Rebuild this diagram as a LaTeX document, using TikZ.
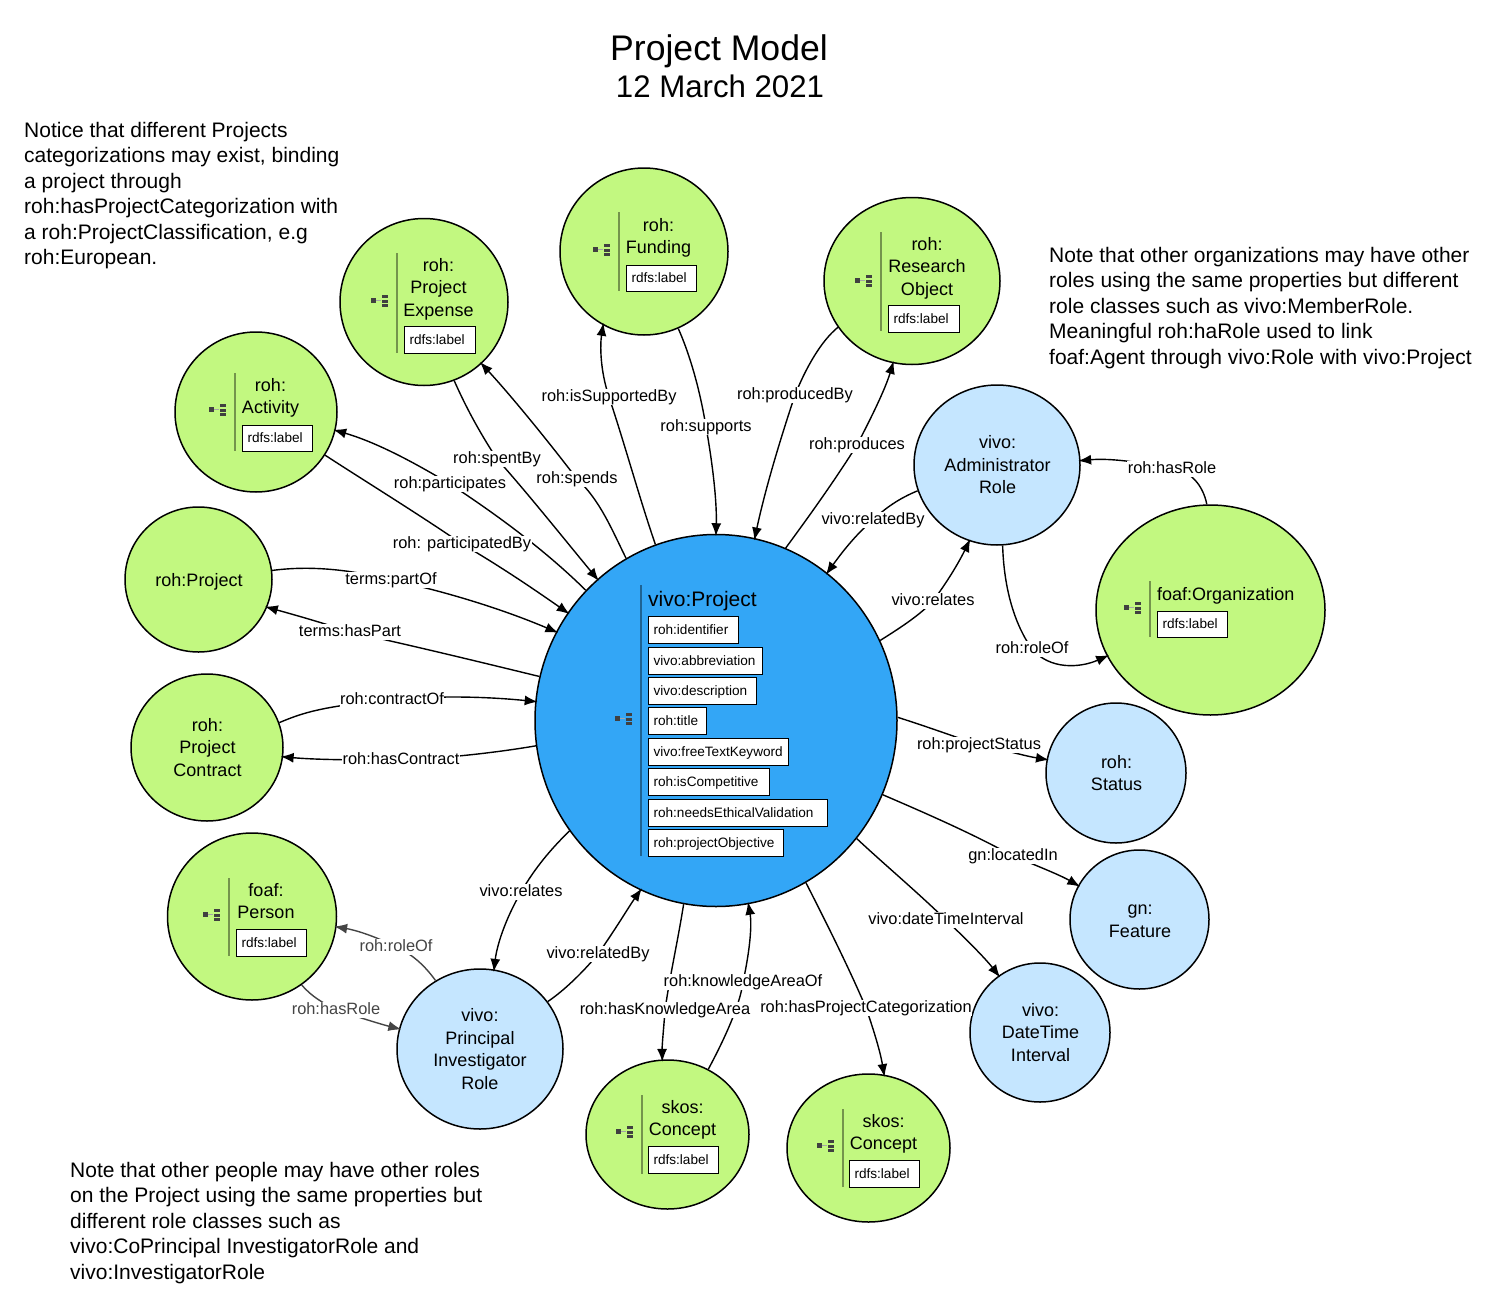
\documentclass[tikz,border=0pt]{standalone}
\usepackage{fontspec}
\setmainfont{Liberation Sans}
\usetikzlibrary{arrows.meta,shapes.geometric}
\pgfdeclarelayer{classes}
\pgfdeclarelayer{links}
\pgfsetlayers{classes,links,main}
\definecolor{projblue}{HTML}{33A6F6}
\definecolor{lightblue}{HTML}{C5E6FF}
\definecolor{lightgreen}{HTML}{C2F880}
\definecolor{rolegray}{HTML}{444444}
\begin{document}
\begin{tikzpicture}[
	x=1pt, y=-1pt,
	bubble/.style={
		draw, ellipse, line width=1.5pt, inner sep=0pt,
		align=center, font=\fontsize{18}{22.5}\selectfont
	},
	greenbubble/.style={bubble, fill=lightgreen},
	bluebubble/.style={bubble, fill=lightblue},
	classname/.style={align=center, inner sep=0pt, yshift=-2pt, font=\fontsize{18}{22.5}\selectfont},
	propbox/.style={
		draw, fill=white, line width=1pt, anchor=north west, align=left,
		inner xsep=5pt, inner ysep=0pt, minimum height=26.5pt,
		text height=12pt, text depth=3pt, text width=#1*1pt-10pt,
		font=\fontsize{13.6}{16}\selectfont
	},
	rel/.style={->, >={Latex[length=13pt,width=10pt]}, line width=1.4pt, shorten >=-2.5pt},
	grayrel/.style={rel, draw=rolegray},
	rellabel/.style={
		fill=white, inner xsep=0.5pt, inner ysep=0pt, yshift=-2pt,
		text height=12pt, text depth=3.5pt,
		font=\fontsize{16.4}{18}\selectfont
	},
	note/.style={
		anchor=north west, align=left, inner sep=0pt,
		font=\fontsize{21}{25.5}\selectfont
	},
	splitline/.style={black, opacity=0.4, line width=1.5pt}
]
	\useasboundingbox (0, 0) rectangle (1510, 1314);
	% Title and notes
	\node[font=\fontsize{35.6}{40}\selectfont] (title) at (719, 51) {Project Model};
	\node[font=\fontsize{31.2}{36}\selectfont] (date) at (720, 86) {12 March 2021};
	\node[note] (notecat) at (24, 122) {Notice that different Projects\\categorizations may exist, binding\\a project through\\roh:hasProjectCategorization with\\a roh:ProjectClassification, e.g\\roh:European.};
	\node[note] (noteorg) at (1049, 247) {Note that other organizations may have other\\roles using the same properties but different\\role classes such as vivo:MemberRole.\\Meaningful roh:haRole used to link\\foaf:Agent through vivo:Role with vivo:Project};
	\node[note] (notepeople) at (70, 1162) {Note that other people may have other roles\\on the Project using the same properties but\\different role classes such as\\vivo:CoPrincipal InvestigatorRole and\\vivo:InvestigatorRole};

	% Classes
	\begin{pgfonlayer}{classes}
		\node[bubble, fill=projblue, minimum width=362pt, minimum height=372pt] (project) at (716, 720.5) {};
		\node[greenbubble, minimum width=168pt, minimum height=167pt] (funding) at (644, 251.5) {};
		\node[greenbubble, minimum width=176pt, minimum height=167pt] (research) at (912, 281) {};
		\node[greenbubble, minimum width=168pt, minimum height=167pt] (expense) at (424, 302) {};
		\node[greenbubble, minimum width=162pt, minimum height=160pt] (activity) at (256, 412) {};
		\node[greenbubble, minimum width=147pt, minimum height=145pt] (rohproject) at (198.5, 579.5) {};
		\node[greenbubble, minimum width=152pt, minimum height=147pt] (contract) at (207, 747.5) {};
		\node[greenbubble, minimum width=169pt, minimum height=167pt] (person) at (252, 916.5) {};
		\node[greenbubble, minimum width=163pt, minimum height=149pt] (skosarea) at (667.5, 1134.5) {};
		\node[greenbubble, minimum width=163pt, minimum height=148pt] (skoscat) at (868.5, 1148) {};
		\node[greenbubble, minimum width=229pt, minimum height=210pt] (organization) at (1210.5, 610) {};
		\node[bluebubble, minimum width=166pt, minimum height=160pt] (adminrole) at (997, 465) {};
		\node[bluebubble, minimum width=166pt, minimum height=160pt] (pirole) at (480, 1049) {};
		\node[bluebubble, minimum width=140pt, minimum height=139pt] (interval) at (1040, 1032.5) {};
		\node[bluebubble, minimum width=139pt, minimum height=139pt] (feature) at (1139.5, 919.5) {};
		\node[bluebubble, minimum width=140pt, minimum height=140pt] (status) at (1116, 773) {};
	\end{pgfonlayer}

	% Class names, separators and outline icons
	\node[classname] (rohprojectname) at (199, 579.5) {roh:Project};
	\node[classname] (contractname) at (207.5, 745.5) {roh:\\Project\\Contract};
	\node[classname] (adminname) at (997.5, 463) {vivo:\\Administrator\\Role};
	\node[classname] (piname) at (480, 1047) {vivo:\\Principal\\Investigator\\Role};
	\node[classname] (intervalname) at (1040.5, 1030.5) {vivo:\\DateTime\\Interval};
	\node[classname] (featurename) at (1140, 919) {gn:\\Feature};
	\node[classname] (statusname) at (1116.5, 771) {roh:\\Status};
	\node[classname] (activityname) at (270.5, 396) {roh:\\Activity};
	\node[classname] (fundingname) at (658.5, 236) {roh:\\Funding};
	\node[classname] (researchname) at (927, 266) {roh:\\Research\\Object};
	\node[classname] (expensename) at (438.5, 287) {roh:\\Project\\Expense};
	\node[classname] (personname) at (266, 899) {foaf:\\Person};
	\node[classname] (skosareaname) at (682.5, 1118) {skos:\\Concept};
	\node[classname] (skoscatname) at (883.5, 1132) {skos:\\Concept};
	\node[classname, anchor=west] (orgname) at (1157, 594) {foaf:Organization};
	\node[classname, anchor=west, font=\fontsize{21}{24}\selectfont] (projectname) at (648, 599) {vivo:Project};
	\foreach \x/\ya/\yb in {235/373/451, 619/212/291, 881/232/331, 397/253/353, 229/878/956, 642/1095/1174, 843/1109/1187, 1150/581/637, 641/585/856} {
		\draw[splitline] (\x, \ya) -- (\x, \yb);
	}
	\foreach \x/\y in {235/409, 619/249, 881/280, 397/300, 229/914, 642/1131, 843/1145, 1150/607, 641/718} {
		\fill[black!75] ({\x-26}, {\y-2}) rectangle ++(5, 5);
		\draw[black!35, line width=0.5pt] ({\x-21}, \y) -- ++(5, 0);
		\foreach \d in {-5, 0, 4} {
			\fill[black!75] ({\x-15}, {\y+\d}) rectangle ++(6, 3);
		}
	}

	% Datatype properties
	\node[propbox=70] (activitylabel) at (242, 424.5) {rdfs:label};
	\node[propbox=70] (fundinglabel) at (626, 264.5) {rdfs:label};
	\node[propbox=71] (researchlabel) at (888, 305) {rdfs:label};
	\node[propbox=71] (expenselabel) at (404, 326) {rdfs:label};
	\node[propbox=70] (personlabel) at (236, 929) {rdfs:label};
	\node[propbox=70] (skosarealabel) at (648, 1146) {rdfs:label};
	\node[propbox=70] (skoscatlabel) at (849, 1160) {rdfs:label};
	\node[propbox=70] (orglabel) at (1157, 610.5) {rdfs:label};
	\node[propbox=90] (pidentifier) at (648, 616) {roh:identifier};
	\node[propbox=114] (pabbreviation) at (648, 647) {vivo:abbreviation};
	\node[propbox=108] (pdescription) at (648, 677) {vivo:description};
	\node[propbox=58] (ptitle) at (648, 707) {roh:title};
	\node[propbox=140] (pkeyword) at (648, 738) {vivo:freeTextKeyword};
	\node[propbox=121] (pcompetitive) at (648, 768) {roh:isCompetitive};
	\node[propbox=179] (pethical) at (648, 799) {roh:needsEthicalValidation};
	\node[propbox=135] (pobjective) at (648, 829) {roh:projectObjective};

	% Relation labels
	\node[rellabel] (lpartof) at (391, 578) {terms:partOf};
	\node[rellabel] (lhaspart) at (350, 630) {terms:hasPart};
	\node[rellabel] (lcontractof) at (392, 698) {roh:contractOf};
	\node[rellabel] (lhascontract) at (401, 758) {roh:hasContract};
	\node[rellabel] (lparticipatedby) at (462, 542) {roh: participatedBy};
	\node[rellabel] (lparticipates) at (450, 482) {roh:participates};
	\node[rellabel] (lspentby) at (497, 457) {roh:spentBy};
	\node[rellabel] (lspends) at (577, 477) {roh:spends};
	\node[rellabel] (lissupported) at (609, 395) {roh:isSupportedBy};
	\node[rellabel] (lsupports) at (706, 425) {roh:supports};
	\node[rellabel] (lproducedby) at (795, 393) {roh:producedBy};
	\node[rellabel] (lproduces) at (857, 443) {roh:produces};
	\node[rellabel] (lrelatedbya) at (873, 518) {vivo:relatedBy};
	\node[rellabel] (lrelatesa) at (933, 599) {vivo:relates};
	\node[rellabel] (lhasrolea) at (1172, 467) {roh:hasRole};
	\node[rellabel] (lroleofa) at (1032, 647) {roh:roleOf};
	\node[rellabel] (lstatus) at (979, 743) {roh:projectStatus};
	\node[rellabel] (llocated) at (1013, 854) {gn:locatedIn};
	\node[rellabel] (linterval) at (946, 918) {vivo:dateTimeInterval};
	\node[rellabel] (lcategorization) at (866, 1006) {roh:hasProjectCategorization};
	\node[rellabel] (lareaof) at (743, 980) {roh:knowledgeAreaOf};
	\node[rellabel] (lhasarea) at (665, 1008) {roh:hasKnowledgeArea};
	\node[rellabel] (lrelatedbyp) at (598, 952) {vivo:relatedBy};
	\node[rellabel] (lrelatesp) at (521, 890) {vivo:relates};
	\node[rellabel, text=rolegray] (lroleofp) at (396, 945) {roh:roleOf};
	\node[rellabel, text=rolegray] (lhasrolep) at (336, 1008) {roh:hasRole};

	% Relations
	\begin{pgfonlayer}{links}
		\draw[rel] (rohproject.7) .. controls (305, 566) and (345, 568) .. (lpartof.center) .. controls (440, 590) and (500, 608) .. (project.151);
		\draw[rel] (project.166) .. controls (480, 662) and (410, 645) .. (lhaspart.center) .. controls (320, 622) and (295, 615) .. (rohproject.-22);
		\draw[rel] (contract.19) .. controls (300, 714) and (320, 706) .. (lcontractof.center) .. controls (440, 695) and (490, 697) .. (project.174);
		\draw[rel] (project.188.6) .. controls (500, 752) and (450, 758) .. (lhascontract.center) .. controls (360, 760) and (320, 760) .. (contract.-7);
		\draw[rel] (activity.-32) .. controls (360, 478) and (420, 515) .. (lparticipatedby.center) .. controls (500, 566) and (535, 590) .. (project.144);
		\draw[rel] (project.135.6) .. controls (550, 555) and (505, 520) .. (lparticipates.center) .. controls (410, 460) and (375, 442) .. (activity.-13);
		\draw[rel] (expense.-69) .. controls (465, 405) and (478, 430) .. (lspentby.center) .. controls (525, 490) and (565, 540) .. (project.130.6);
		\draw[rel] (project.119.6) .. controls (612, 530) and (600, 500) .. (lspends.center) .. controls (555, 450) and (515, 400) .. (expense.-47);
		\draw[rel] (funding.-66) .. controls (690, 355) and (700, 390) .. (lsupports.center) .. controls (712, 460) and (717, 500) .. (project.90);
		\draw[rel] (project.109) .. controls (640, 500) and (625, 445) .. (lissupported.center) .. controls (600, 370) and (600, 345) .. (funding.-119);
		\draw[rel] (research.212) .. controls (820, 342) and (805, 370) .. (lproducedby.center) .. controls (780, 440) and (765, 490) .. (project.78);
		\draw[rel] (project.68.5) .. controls (810, 515) and (835, 480) .. (lproduces.center) .. controls (870, 420) and (885, 390) .. (research.-103);
		\draw[rel] (adminrole.198) .. controls (900, 498) and (885, 508) .. (lrelatedbya.center) .. controls (855, 535) and (840, 555) .. (project.53.4);
		\draw[rel] (project.26) .. controls (900, 628) and (920, 615) .. (lrelatesa.center) .. controls (950, 578) and (960, 560) .. (adminrole.-110);
		\draw[rel] (organization.92.7) .. controls (1203, 485) and (1190, 470) .. (lhasrolea.center) .. controls (1140, 462) and (1110, 458) .. (adminrole.3.5);
		\draw[rel] (adminrole.-86) .. controls (1004, 590) and (1015, 625) .. (lroleofa.center) .. controls (1050, 670) and (1080, 668) .. (organization.204);
		\draw[rel] (project.1) .. controls (925, 726) and (950, 735) .. (lstatus.center) .. controls (1005, 750) and (1025, 756) .. (status.169);
		\draw[rel] (project.-24) .. controls (930, 815) and (975, 835) .. (llocated.center) .. controls (1035, 865) and (1060, 875) .. (feature.151.5);
		\draw[rel] (project.-40) .. controls (885, 865) and (915, 890) .. (linterval.center) .. controls (965, 938) and (985, 958) .. (interval.126);
		\draw[rel] (project.-61) .. controls (825, 920) and (850, 970) .. (lcategorization.center) .. controls (872, 1025) and (880, 1050) .. (skoscat.78);
		\draw[rel] (skosarea.58.6) .. controls (725, 1038) and (740, 1005) .. (lareaof.center) .. controls (750, 950) and (752, 925) .. (project.-80);
		\draw[rel] (project.-100) .. controls (678, 940) and (670, 975) .. (lhasarea.center) .. controls (664, 1025) and (662, 1045) .. (skosarea.94);
		\draw[rel] (pirole.35.5) .. controls (565, 990) and (585, 970) .. (lrelatedbyp.center) .. controls (615, 930) and (630, 905) .. (project.-114.6);
		\draw[rel] (project.217.7) .. controls (550, 850) and (535, 868) .. (lrelatesp.center) .. controls (505, 920) and (497, 945) .. (pirole.80);
		\draw[grayrel] (pirole.123.5) .. controls (428, 970) and (415, 955) .. (lroleofp.center) .. controls (375, 936) and (355, 930) .. (person.-7.5);
		\draw[grayrel] (person.-54.7) .. controls (312, 997) and (322, 1002) .. (lhasrolep.center) .. controls (355, 1016) and (380, 1024) .. (pirole.166.6);
	\end{pgfonlayer}
\end{tikzpicture}
\end{document}
